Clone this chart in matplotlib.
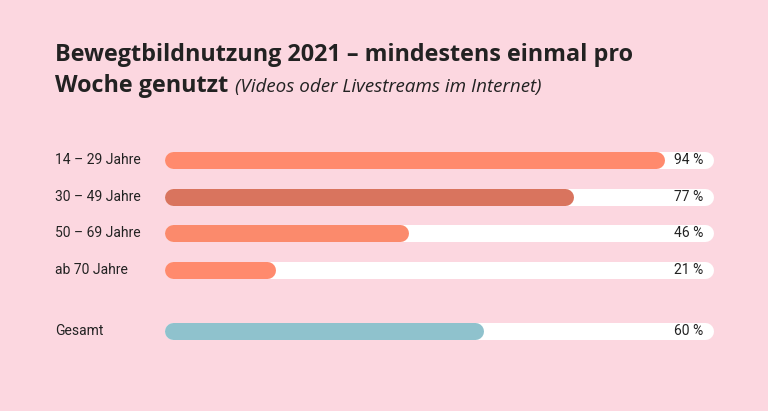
import matplotlib
matplotlib.use("Agg")
import matplotlib.pyplot as plt

categories = ["14 – 29 Jahre", "30 – 49 Jahre", "50 – 69 Jahre", "ab 70 Jahre", "Gesamt"]
values = [94, 77, 46, 21, 60]
value_labels = ["94 %", "77 %", "46 %", "21 %", "60 %"]
bar_colors = ["#ff8a6d", "#d9745e", "#fb8a6c", "#ff8a6d", "#8fc2cd"]
positions = [0, 1, 2, 3, 4.65]

W, H = 768, 411
bg = "#fcd7e0"
fig = plt.figure(figsize=(W/100, H/100), dpi=100, facecolor=bg)
x0, x1 = 164, 696
ax = fig.add_axes([x0/W, 0, (x1-x0)/W, 1])
ax.set_facecolor("none")
ax.set_xlim(0, 100)
step = 36.7
top_px = 160
ax.set_ylim((H - top_px)/step, -top_px/step)
ax.axis("off")

unit_px = (x1-x0)/100
lw_pt = 17*0.72
r = 8.5/unit_px
track_end = (713-x0)/unit_px
for p, v, c, lab, cat in zip(positions, values, bar_colors, value_labels, categories):
    ax.plot([r, track_end - r], [p, p], color="white", lw=lw_pt, solid_capstyle="round", clip_on=False)
    ax.plot([r, v - r], [p, p], color=c, lw=lw_pt, solid_capstyle="round", clip_on=False)
    ax.text((703-x0)/unit_px, p, lab, ha="right", va="center", fontsize=10,
            color="#222222", family="Roboto", clip_on=False)
    ax.text((55-x0)/unit_px, p, cat, ha="left", va="center", fontsize=10,
            color="#222222", family="Roboto", clip_on=False)

fig.text(55/W, 1-55/H, "Bewegtbildnutzung 2021 – mindestens einmal pro",
         fontsize=16.8, fontweight="bold", color="#222222", family="Open Sans", va="center")
fig.text(55/W, 1-86/H, "Woche genutzt", fontsize=16.8, fontweight="bold",
         color="#222222", family="Open Sans", va="center")
fig.text(235/W, 1-87/H, "(Videos oder Livestreams im Internet)", fontsize=13.6,
         style="italic", color="#222222", family="Open Sans", va="center")

fig.savefig("out.png", dpi=100, facecolor=bg)
